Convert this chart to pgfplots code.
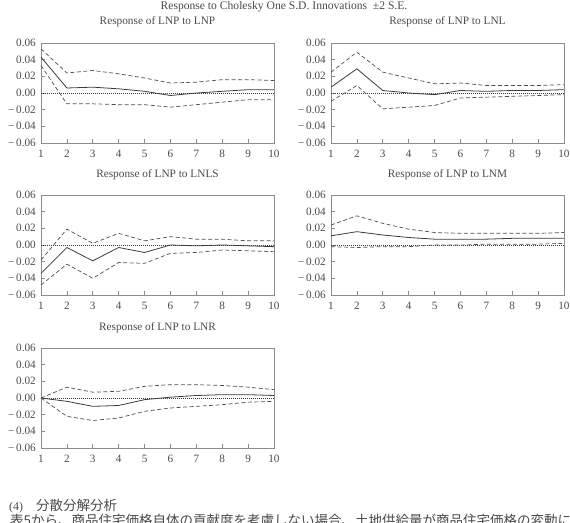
\documentclass[border=0pt]{standalone}
\usepackage{fontspec}
\setmainfont{Liberation Serif}
\newfontfamily\cjk{Noto Sans CJK JP}
\usepackage{pgfplots}
\usepackage{pgfplotstable}
\pgfplotsset{compat=1.18}

\definecolor{framegray}{HTML}{8C8C8C}
\definecolor{inkgray}{HTML}{3C3C3C}
\definecolor{bandgray}{HTML}{4E4E4E}
\definecolor{textgray}{HTML}{4A4A4A}

% period, response, upper band, lower band
\pgfplotstableread{
x  r      up     lo
1  0.043  0.053  0.033
2  0.006  0.024 -0.013
3  0.007  0.027 -0.013
4  0.005  0.023 -0.014
5  0.002  0.018 -0.014
6 -0.003  0.012 -0.017
7  0.000  0.013 -0.014
8  0.002  0.016 -0.011
9  0.004  0.016 -0.008
10 0.004  0.015 -0.008
}\tLNP
\pgfplotstableread{
x  r      up     lo
1  0.007  0.025 -0.010
2  0.029  0.049  0.009
3  0.003  0.025 -0.019
4  0.000  0.018 -0.017
5 -0.002  0.011 -0.015
6  0.003  0.012 -0.006
7  0.002  0.009 -0.005
8  0.003  0.009 -0.004
9  0.003  0.009 -0.003
10 0.004  0.010 -0.002
}\tLNL
\pgfplotstableread{
x  r      up     lo
1 -0.034 -0.018 -0.048
2 -0.003  0.019 -0.023
3 -0.019  0.002 -0.040
4 -0.003  0.014 -0.021
5 -0.009  0.005 -0.022
6  0.000  0.010 -0.010
7 -0.001  0.007 -0.009
8  0.000  0.007 -0.006
9 -0.001  0.005 -0.007
10 -0.002 0.005 -0.008
}\tLNLS
\pgfplotstableread{
x  r      up     lo
1  0.011  0.024 -0.002
2  0.016  0.035 -0.003
3  0.012  0.026 -0.002
4  0.009  0.019 -0.002
5  0.007  0.015  0.000
6  0.007  0.014  0.000
7  0.007  0.014  0.001
8  0.008  0.014  0.001
9  0.008  0.014  0.001
10 0.008  0.015  0.002
}\tLNM
\pgfplotstableread{
x  r      up     lo
1  0.000  0.000  0.000
2 -0.004  0.013 -0.022
3 -0.010  0.007 -0.027
4 -0.009  0.008 -0.024
5 -0.002  0.014 -0.016
6  0.001  0.016 -0.012
7  0.003  0.016 -0.010
8  0.004  0.015 -0.008
9  0.004  0.013 -0.005
10 0.003  0.010 -0.004
}\tLNR

\pgfplotsset{
  irf/.style={
    scale only axis, width=233pt, height=100pt,
    anchor=south west,
    xmin=1, xmax=10, ymin=-0.06, ymax=0.06,
    scaled ticks=false,
    xtick={1,2,3,4,5,6,7,8,9,10},
    xticklabels={1,2,3,4,5,6,7,8,9,10},
    ytick={-0.06,-0.04,-0.02,0,0.02,0.04,0.06},
    yticklabels={−\,0.06,−\,0.04,−\,0.02,0.00,0.02,0.04,0.06},
    axis line style={framegray, line width=0.9pt},
    tick style={framegray, line width=0.7pt},
    major tick length=4pt,
    tick align=inside,
    xtick pos=bottom, ytick pos=left,
    ticklabel style={font=\fontsize{11.2}{12}\selectfont, text=textgray},
    xticklabel style={anchor=base, yshift=-15pt},
    yticklabel style={anchor=east, inner sep=0pt, xshift=-5pt},
    title style={font=\fontsize{11.3}{12}\selectfont, text=textgray,
                 at={(0.5,1)}, anchor=base, yshift=12pt, inner sep=0pt},
    clip=false,
  },
  resp/.style={inkgray, line width=0.8pt},
  band/.style={bandgray, line width=0.7pt, dash pattern=on 4pt off 2.5pt},
  zero/.style={inkgray, line width=0.6pt, dash pattern=on 1pt off 1pt},
}

\newcommand{\irfpanel}[1]{%
  \addplot[zero] coordinates {(1,0) (10,0)};
  \addplot[band] table[x=x, y=up] {#1};
  \addplot[band] table[x=x, y=lo] {#1};
  \addplot[resp] table[x=x, y=r] {#1};
}

\begin{document}
\begin{tikzpicture}
\useasboundingbox (0,0) rectangle (570pt,522pt);

\node[font=\fontsize{11.6}{13}\selectfont, text=textgray, anchor=base]
  at (284pt,512.5pt) {Response to Cholesky One S.D. Innovations\enspace ±2 S.E.};

\begin{axis}[irf, at={(41pt,379pt)}, title={Response of LNP to LNP}]
  \irfpanel{\tLNP}
\end{axis}
\begin{axis}[irf, at={(331pt,379pt)}, title={Response of LNP to LNL}]
  \irfpanel{\tLNL}
\end{axis}
\begin{axis}[irf, at={(41pt,227pt)}, title={Response of LNP to LNLS}]
  \irfpanel{\tLNLS}
\end{axis}
\begin{axis}[irf, at={(331pt,227pt)}, title={Response of LNP to LNM}]
  \irfpanel{\tLNM}
\end{axis}
\begin{axis}[irf, at={(41pt,74pt)}, title={Response of LNP to LNR}]
  \irfpanel{\tLNR}
\end{axis}

\node[font=\fontsize{12}{14}\selectfont, text=textgray, anchor=base west, inner sep=0pt]
  at (9pt,12pt) {(4)};
\node[font=\cjk\fontsize{13.5}{15}\selectfont, text=textgray, anchor=base west, inner sep=0pt]
  at (36pt,12pt) {分散分解分析};
\node[font=\cjk\fontsize{13.5}{15}\selectfont, text=textgray, anchor=base west, inner sep=0pt]
  at (10pt,-3pt) {表5から、商品住宅価格自体の貢献度を考慮しない場合、土地供給量が商品住宅価格の変動に};
\end{tikzpicture}
\end{document}
